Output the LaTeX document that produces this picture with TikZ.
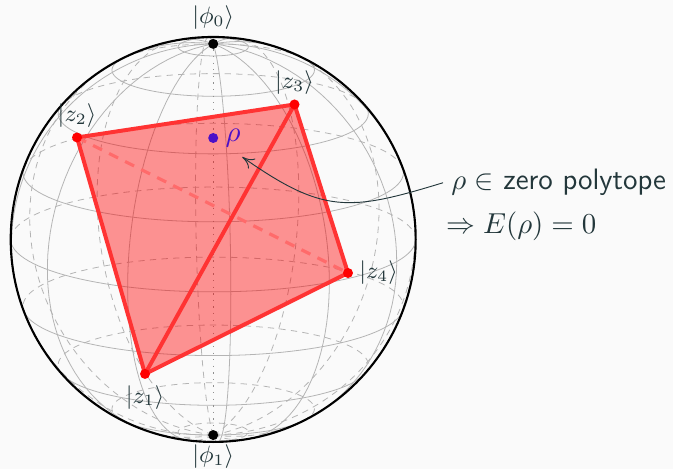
\documentclass[tikz,border=0pt]{standalone}
\usepackage{amsmath,amssymb}
\usepackage{xcolor}
\usetikzlibrary{arrows.meta,positioning,calc}
\definecolor{cBack}{HTML}{FAFAFA}
\definecolor{cText}{HTML}{23373B}
\definecolor{cGrid}{HTML}{B4B4B4}
\definecolor{cRho}{HTML}{4B10C8}

\begin{document}
\begin{tikzpicture}[
  font=\fontsize{8.6}{10}\selectfont,
  declare function={
    tilt=15;
    sx(\a,\b)=2.7*cos(\a)*sin(\b);
    sy(\a,\b)=2.7*(sin(\a)*cos(tilt)-cos(\a)*cos(\b)*sin(tilt));
  },
  front/.style={cGrid, line width=0.3pt},
  back/.style={cGrid, line width=0.3pt, dash pattern=on 2.4pt off 2pt},
  edge/.style={red!80!white, line width=1.5pt, line join=round},
  dot/.style={circle, fill=#1, inner sep=0pt, minimum size=3.8pt},
  ket/.style={text=cText, inner sep=0pt},
  note/.style={text=cText, font=\fontsize{11.2}{13}\selectfont\sffamily, inner sep=0pt},
  node distance=1.4pt,
]
\useasboundingbox[fill=cBack] (-2.843,-3.067) rectangle (6.131,3.193);

% ── parallels ─────────────────────────────────────────────────────────────
\foreach \lat in {-60,-40,...,60} {
  \pgfmathsetmacro{\hor}{acos(-tan(\lat)*tan(tilt))}
  \draw[back] plot[domain=\hor:360-\hor, samples=60, variable=\lon] ({sx(\lat,\lon)},{sy(\lat,\lon)});
  \draw[front] plot[domain=-\hor:\hor, samples=60, variable=\lon] ({sx(\lat,\lon)},{sy(\lat,\lon)});
}
\draw[front] plot[domain=-180:180, samples=40, variable=\lon] ({sx(80,\lon)},{sy(80,\lon)});
\draw[back] plot[domain=-180:180, samples=40, variable=\lon] ({sx(-80,\lon)},{sy(-80,\lon)});

% ── meridians ─────────────────────────────────────────────────────────────
\foreach \lon in {-175,-145,...,175} {
  \pgfmathsetmacro{\hor}{atan(-cos(\lon)/tan(tilt))}
  \draw[back] plot[domain=-90:\hor, samples=50, variable=\lat] ({sx(\lat,\lon)},{sy(\lat,\lon)});
  \draw[front] plot[domain=\hor:90, samples=50, variable=\lat] ({sx(\lat,\lon)},{sy(\lat,\lon)});
}

% ── outline and axis ──────────────────────────────────────────────────────
\draw[black, line width=0.8pt] (0,0) circle (2.7);
\node[dot=black] (p0) at ({sx(90,0)},{sy(90,0)}) {};
\node[dot=black] (p1) at ({sx(-90,0)},{sy(-90,0)}) {};
\draw[cGrid!80!black, line width=0.5pt, dotted] (p0) -- (p1);

% ── polytope ──────────────────────────────────────────────────────────────
\coordinate (c1) at (-0.909,-1.793);
\coordinate (c2) at (-1.816,1.36);
\coordinate (c3) at (1.084,1.80);
\coordinate (c4) at (1.797,-0.447);
\fill[red, opacity=0.42] (c1) -- (c2) -- (c3) -- (c4) -- cycle;
\draw[red!58!white, line width=1.2pt, dash pattern=on 3.8pt off 3pt] (c2) -- (c4);
\draw[edge] (c1) -- (c2) -- (c3) -- (c4) -- cycle;
\draw[edge] (c1) -- (c3);
\node[dot=red] (z1) at (c1) {};
\node[dot=red] (z2) at (c2) {};
\node[dot=red] (z3) at (c3) {};
\node[dot=red] (z4) at (c4) {};
\node[dot=cRho] (rho) at (0,1.353) {};

% ── labels ────────────────────────────────────────────────────────────────
\node[ket, above=3pt of p0] (l0) {$|\phi_0\rangle$};
\node[ket, below=1.5pt of p1] (l1) {$|\phi_1\rangle$};
\node[ket, below=2pt of z1] (lz1) {$|z_1\rangle$};
\node[ket, above=of z2] (lz2) {$|z_2\rangle$};
\node[ket, above=of z3] (lz3) {$|z_3\rangle$};
\node[ket, right=2pt of z4] (lz4) {$|z_4\rangle$};
\node[ket, right=2.4pt of rho, text=cRho, font=\fontsize{11}{13}\selectfont] (lrho) {$\rho$};

% ── annotation ────────────────────────────────────────────────────────────
\node[note, anchor=base west] (nin) at (3.17,0.66) {$\rho\in$ zero polytope};
\node[note, anchor=base west, xshift=-2pt] (nzero) at (3.17,0.08) {$\Rightarrow E(\rho)=0$};
\draw[cText, line width=0.35pt, -{To[length=1.6mm,width=1.6mm]}] ([xshift=-3pt]nin.west) to[out=197, in=-35, looseness=1.25] (0.387,1.10);
\end{tikzpicture}
\end{document}
